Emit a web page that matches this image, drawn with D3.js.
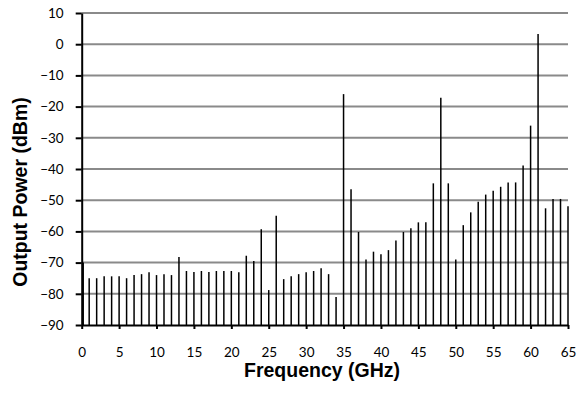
<!DOCTYPE html>
<html>
<head>
<meta charset="utf-8">
<script src="https://cdn.jsdelivr.net/npm/d3@7"></script>
<style>
  body { margin: 0; background: #fff; }
  svg { display: block; }
</style>
</head>
<body>
<script>
// spectrum lines, one per GHz
var freqs = d3.range(0, 66);
var power = [-70, -75, -75, -74.4, -74.4, -74.4, -75, -74, -73.7, -73.1,
  -74, -73.7, -74, -68.2, -72.7, -73, -72.7, -73, -72.7, -72.7,
  -72.7, -73.1, -67.8, -69.5, -59.3, -78.8, -55, -75.3, -74.4, -73.7,
  -73.1, -72.7, -71.8, -73.7, -81, -16, -46.5, -60.2, -69, -66.5,
  -67.3, -66, -62.9, -60.2, -59, -57.1, -57.1, -44.6, -17.2, -44.6,
  -69, -58, -53.9, -50.5, -48.2, -47, -45.7, -44.3, -44.3, -38.9,
  -26.1, 3.3, -52.6, -49.6, -49.6, -51.9];
var xTicks = d3.range(0, 66, 5);
var yTicks = d3.range(-90, 11, 10);

var width = 584, height = 400;
var svg = d3.select("body").append("svg").attr("width", width).attr("height", height);

var x = d3.scaleLinear().domain([0, 65]).range([81.7, 568]);
var y = d3.scaleLinear().domain([-90, 10]).range([325, 13]);

// gridlines
svg.append("g")
  .selectAll("line")
  .data(yTicks.filter(function(d) { return d > -90; }))
  .enter().append("line")
    .attr("x1", x(0)).attr("x2", x(65))
    .attr("y1", function(d) { return y(d); })
    .attr("y2", function(d) { return y(d); })
    .attr("stroke", "#8a8a8a")
    .attr("stroke-width", 2);

// spectral lines
var data = freqs.map(function(f, i) { return {f: f, p: power[i]}; });
svg.append("g")
  .selectAll("line")
  .data(data)
  .enter().append("line")
    .attr("x1", function(d) { return x(d.f) + (d.f === 0 ? 1.5 : 0); })
    .attr("x2", function(d) { return x(d.f) + (d.f === 0 ? 1.5 : 0); })
    .attr("y1", y(-90))
    .attr("y2", function(d) { return y(d.p); })
    .attr("stroke", "#000")
    .attr("stroke-width", 1.5);

var font = "Lato, 'Open Sans', sans-serif";

var yAxis = svg.append("g")
    .attr("transform", "translate(" + x(0) + ",0)")
    .call(d3.axisLeft(y).tickValues(yTicks).tickSize(6).tickPadding(12).tickSizeOuter(0));
yAxis.select(".domain").attr("stroke-width", 2);
yAxis.selectAll(".tick line").attr("stroke-width", 2);
yAxis.selectAll("text").style("font-family", font).style("font-size", "13.5px").attr("fill", "#000");

var xAxis = svg.append("g")
    .attr("transform", "translate(0," + y(-90) + ")")
    .call(d3.axisBottom(x).tickValues(xTicks).tickSize(4).tickPadding(18).tickSizeOuter(0));
xAxis.select(".domain").attr("stroke-width", 2);
xAxis.selectAll(".tick line").attr("stroke-width", 2);
xAxis.selectAll("text").style("font-family", font).style("font-size", "13.5px").attr("fill", "#000");

svg.append("text")
    .attr("x", 322).attr("y", 377)
    .attr("text-anchor", "middle")
    .style("font-family", "'Liberation Sans', Arial, sans-serif")
    .style("font-weight", "bold")
    .style("font-size", "19.5px")
    .text("Frequency (GHz)");

svg.append("text")
    .attr("transform", "translate(27,192) rotate(-90)")
    .attr("text-anchor", "middle")
    .style("font-family", "'Liberation Sans', Arial, sans-serif")
    .style("font-weight", "bold")
    .style("font-size", "19.5px")
    .text("Output Power (dBm)");
</script>
</body>
</html>
